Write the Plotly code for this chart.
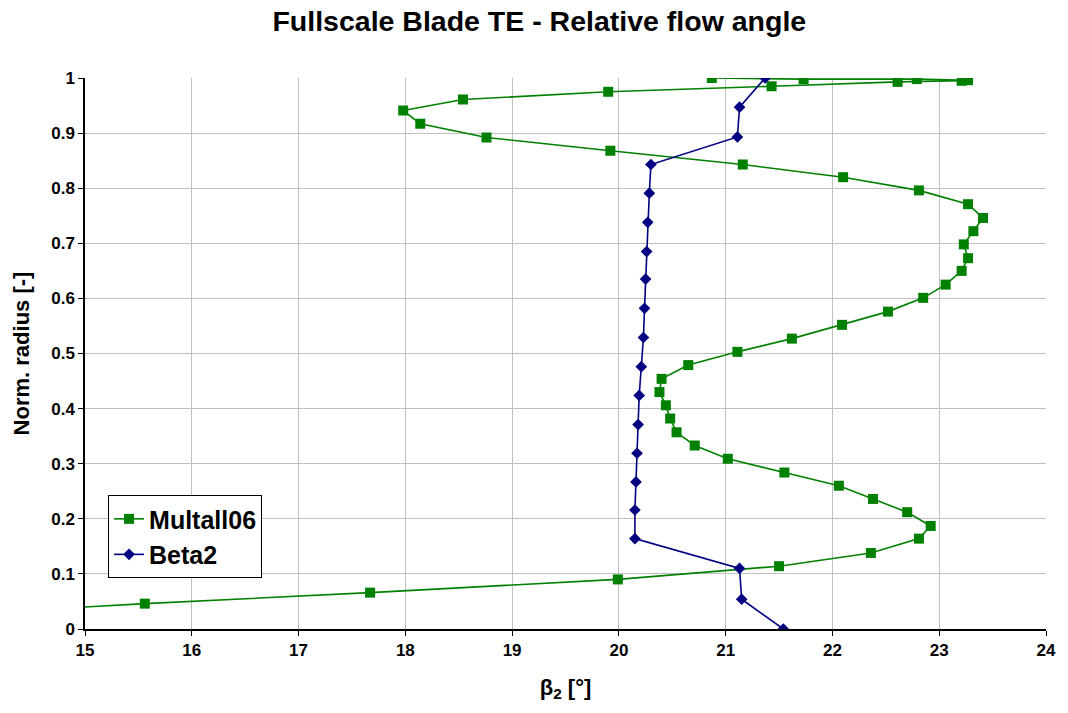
import plotly.graph_objects as go

# Multall06 series (beta2 in deg, normalized radius)
multall_x = [13.3, 15.56, 17.67, 19.99, 21.50, 22.36, 22.81, 22.92, 22.70, 22.38, 22.06,
             21.55, 21.02, 20.71, 20.54, 20.48, 20.44, 20.38, 20.40, 20.65, 21.11,
             21.62, 22.09, 22.52, 22.85, 23.06, 23.21, 23.27, 23.23, 23.32, 23.41,
             23.27, 22.81, 22.10, 21.16, 19.92, 18.76, 18.14, 17.98, 18.54, 19.90,
             21.43, 22.61, 23.21, 23.27, 22.79, 21.73, 20.87]
multall_y = [0.022, 0.046, 0.066, 0.090, 0.114, 0.138, 0.164, 0.187, 0.212, 0.236, 0.260,
             0.284, 0.309, 0.333, 0.357, 0.382, 0.406, 0.430, 0.454, 0.479, 0.503,
             0.527, 0.552, 0.576, 0.601, 0.625, 0.650, 0.673, 0.698, 0.722, 0.746,
             0.771, 0.796, 0.820, 0.843, 0.868, 0.892, 0.917, 0.941, 0.961, 0.975,
             0.985, 0.993, 0.995, 0.996, 0.998, 0.998, 1.000]

# Beta2 series
beta2_x = [21.54, 21.15, 21.13, 20.15, 20.15, 20.16, 20.17, 20.18, 20.19, 20.21,
           20.23, 20.24, 20.25, 20.26, 20.27, 20.285, 20.30, 21.11, 21.13, 21.37]
beta2_y = [0.000, 0.054, 0.110, 0.164, 0.216, 0.267, 0.319, 0.371, 0.424, 0.476,
           0.529, 0.582, 0.635, 0.685, 0.738, 0.791, 0.843, 0.893, 0.947, 1.000]

x_ticks = [15, 16, 17, 18, 19, 20, 21, 22, 23, 24]
y_ticks = [0, 0.1, 0.2, 0.3, 0.4, 0.5, 0.6, 0.7, 0.8, 0.9, 1]
y_tick_labels = ["0", "0.1", "0.2", "0.3", "0.4", "0.5", "0.6", "0.7", "0.8", "0.9", "1"]

FONT = "Liberation Sans, Arial, sans-serif"

fig = go.Figure()
fig.add_trace(go.Scatter(
    x=multall_x, y=multall_y, mode="lines+markers", name="<b>Multall06</b>",
    line=dict(color="#008000", width=1.6),
    marker=dict(symbol="square", size=10, color="#008000"),
))
fig.add_trace(go.Scatter(
    x=beta2_x, y=beta2_y, mode="lines+markers", name="<b>Beta2</b>",
    line=dict(color="#000080", width=1.6),
    marker=dict(symbol="diamond", size=9, color="#000080"),
))

fig.update_layout(
    width=1068, height=713,
    margin=dict(l=85, r=22, t=78, b=84),
    paper_bgcolor="white", plot_bgcolor="white",
    font=dict(family=FONT, color="black"),
    title=dict(text="<b>Fullscale Blade TE - Relative flow angle</b>",
               x=0.505, xanchor="center", y=1 - 21/713, yanchor="middle",
               font=dict(size=28.5, family=FONT, color="black")),
    xaxis=dict(range=[15, 24], tickvals=x_ticks,
               ticktext=[f"<b>{v}</b>" for v in x_ticks],
               tickfont=dict(size=17, family=FONT),
               showgrid=True, gridcolor="#c0c0c0", gridwidth=1,
               showline=True, linecolor="black", linewidth=1.5,
               ticks="outside", ticklen=5, tickcolor="black",
               zeroline=False,
               title=dict(text="<b>β<sub>2</sub> [°]</b>", font=dict(size=22, family=FONT),
                          standoff=20)),
    yaxis=dict(range=[0, 1], tickvals=y_ticks,
               ticktext=[f"<b>{t}</b>" for t in y_tick_labels],
               tickfont=dict(size=17, family=FONT),
               showgrid=True, gridcolor="#c0c0c0", gridwidth=1,
               showline=True, linecolor="black", linewidth=1.5,
               ticks="outside", ticklen=5, tickcolor="black",
               zeroline=False,
               title=dict(text="<b>Norm. radius [-]</b>", font=dict(size=22, family=FONT),
                          standoff=16)),
    legend=dict(x=0.024, y=0.243, xanchor="left", yanchor="top",
                bgcolor="white", bordercolor="black", borderwidth=1,
                font=dict(size=25, family=FONT),
                tracegroupgap=0),
    showlegend=True,
)

fig.write_html("out.html")
